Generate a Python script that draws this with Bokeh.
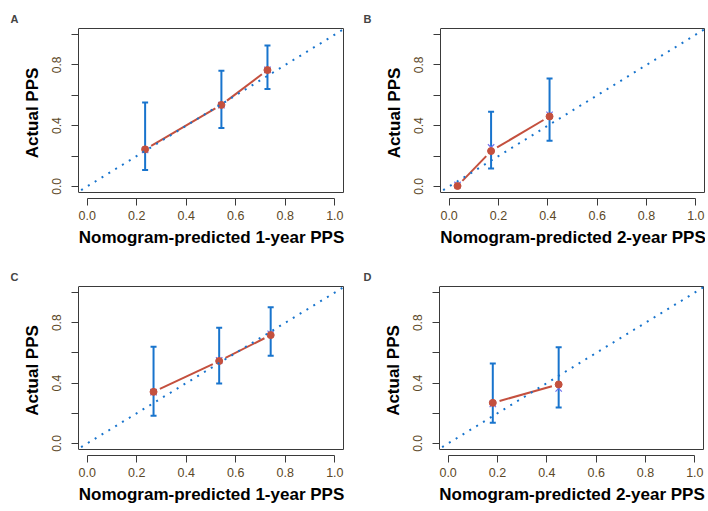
from bokeh.plotting import figure
from bokeh.models import Range1d, FixedTicker, Slope, Whisker, TeeHead, ColumnDataSource
from bokeh.layouts import column, row
from bokeh.embed import file_html
from bokeh.resources import INLINE
import math

# ---------------- data ----------------
letters = ["A", "B", "C", "D"]
x_titles = ["Nomogram-predicted 1-year PPS", "Nomogram-predicted 2-year PPS",
            "Nomogram-predicted 1-year PPS", "Nomogram-predicted 2-year PPS"]
y_title = "Actual PPS"
tick_values = [0.0, 0.2, 0.4, 0.6, 0.8, 1.0]
x_tick_labels = ["0.0", "0.2", "0.4", "0.6", "0.8", "1.0"]
y_tick_labels = ["0.0", "", "0.4", "", "0.8", ""]

a_pred = [0.234, 0.542, 0.728]
a_obs = [0.244, 0.537, 0.766]
a_corr = [0.240, 0.535, 0.768]
a_low = [0.108, 0.384, 0.641]
a_high = [0.553, 0.761, 0.928]

b_pred = [0.034, 0.170, 0.407]
b_obs = [0.003, 0.233, 0.461]
b_corr = [0.010, 0.257, 0.472]
b_low = [float("nan"), 0.118, 0.301]
b_high = [float("nan"), 0.491, 0.711]

c_pred = [0.268, 0.533, 0.741]
c_obs = [0.342, 0.546, 0.718]
c_corr = [0.340, 0.550, 0.727]
c_low = [0.183, 0.398, 0.581]
c_high = [0.641, 0.767, 0.902]

d_pred = [0.181, 0.448]
d_obs = [0.269, 0.391]
d_corr = [0.262, 0.365]
d_low = [0.137, 0.239]
d_high = [0.530, 0.637]

# ---------------- style ----------------
BLUE = "#1874CD"
RED = "#C4503E"
XMARK = "#7070EE"
AXIS = "#3a3a3a"
TICKLAB = "#5C4827"
FONT = "Liberation Sans"
X0, X1 = -0.035, 1.035
Y0, Y1 = -0.04, 1.04


def panel(letter, xtitle, pred, obs, corr, low, high, bw, bh, bl, bt, br, bb,
          title_off):
    # box of bw x bh px; frame extends 1px above/right and 6px below (detached x axis)
    ux = bw / (X1 - X0)
    uy = bh / (Y1 - Y0)
    ext_top, ext_right, ext_bottom = 1, 1, 6
    p = figure(frame_width=bw + ext_right, frame_height=bh + ext_top + ext_bottom,
               x_range=Range1d(X0, X1 + ext_right / ux),
               y_range=Range1d(Y0 - ext_bottom / uy, Y1 + ext_top / uy),
               output_backend="svg", toolbar_location=None,
               min_border_left=bl, min_border_top=bt, min_border_right=br,
               min_border_bottom=bb, background_fill_color="white",
               border_fill_color="white")
    p.grid.visible = False
    p.outline_line_color = None

    # letter
    p.title.text = letter
    p.title.text_font = FONT
    p.title.text_font_size = "11px"
    p.title.text_font_style = "bold"
    p.title.align = "left"
    p.title.vertical_align = "top"
    p.title.offset = title_off
    p.title.standoff = 1

    xa = p.xaxis[0]
    xa.ticker = FixedTicker(ticks=tick_values)
    xa.major_label_overrides = {v: s for v, s in zip(tick_values, x_tick_labels)}
    xa.bounds = (0, 1)
    xa.minor_tick_line_color = None
    xa.major_tick_in = 0
    xa.major_tick_out = 7
    xa.axis_line_color = AXIS
    xa.major_tick_line_color = AXIS
    xa.major_label_text_font = FONT
    xa.major_label_text_font_size = "12.5px"
    xa.major_label_text_color = TICKLAB
    xa.major_label_standoff = 5
    xa.axis_label = xtitle
    xa.axis_label_text_font = FONT
    xa.axis_label_text_font_size = "17px"
    xa.axis_label_text_font_style = "bold"
    xa.axis_label_text_color = "black"
    xa.axis_label_standoff = 5

    ya = p.yaxis[0]
    ya.ticker = FixedTicker(ticks=tick_values)
    ya.major_label_overrides = {v: s for v, s in zip(tick_values, y_tick_labels)}
    ya.bounds = (Y0, Y1)
    ya.minor_tick_line_color = None
    ya.major_tick_in = 0
    ya.major_tick_out = 7
    ya.axis_line_color = AXIS
    ya.major_tick_line_color = AXIS
    ya.major_label_orientation = "vertical"
    ya.major_label_text_font = FONT
    ya.major_label_text_font_size = "12px"
    ya.major_label_text_color = TICKLAB
    ya.major_label_standoff = 10
    ya.axis_label = y_title
    ya.axis_label_text_font = FONT
    ya.axis_label_text_font_size = "17px"
    ya.axis_label_text_font_style = "bold"
    ya.axis_label_text_color = "black"
    ya.axis_label_standoff = 8

    # plot box (top, right, bottom edges; left edge is the y axis line)
    p.line(x=[X0, X1, X1, X0], y=[Y1, Y1, Y0, Y0], line_color=AXIS, line_width=1)

    # ideal diagonal
    p.add_layout(Slope(gradient=1, y_intercept=0, line_color=BLUE, line_width=2,
                       line_dash="2 6"))

    # error bars
    src = ColumnDataSource(dict(x=pred, lo=low, hi=high))
    p.add_layout(Whisker(base="x", lower="lo", upper="hi", source=src,
                         line_color=BLUE, line_width=2,
                         upper_head=TeeHead(size=6, line_color=BLUE, line_width=2),
                         lower_head=TeeHead(size=6, line_color=BLUE, line_width=2)))

    # observed line with gaps around points (type = "b")
    gap = 7.0
    x0s, y0s, x1s, y1s = [], [], [], []
    for i in range(len(pred) - 1):
        dxp = (pred[i + 1] - pred[i]) * ux
        dyp = (obs[i + 1] - obs[i]) * uy
        f = gap / math.hypot(dxp, dyp)
        x0s.append(pred[i] + (pred[i + 1] - pred[i]) * f)
        y0s.append(obs[i] + (obs[i + 1] - obs[i]) * f)
        x1s.append(pred[i + 1] - (pred[i + 1] - pred[i]) * f)
        y1s.append(obs[i + 1] - (obs[i + 1] - obs[i]) * f)
    p.segment(x0=x0s, y0=y0s, x1=x1s, y1=y1s, line_color=RED, line_width=2)

    p.scatter(pred, corr, marker="x", size=9, line_color=XMARK, line_width=1.2)
    p.scatter(pred, obs, marker="circle", size=7, fill_color=RED, line_color=RED)
    return p


pa = panel("A", x_titles[0], a_pred, a_obs, a_corr, a_low, a_high,
           265, 164, 78, 27, 10, 55, -68)
pb = panel("B", x_titles[1], b_pred, b_obs, b_corr, b_low, b_high,
           264, 164, 86, 27, 0, 55, -77)
pc = panel("C", x_titles[2], c_pred, c_obs, c_corr, c_low, c_high,
           265, 163, 78, 32, 10, 50, -68)
pd = panel("D", x_titles[3], d_pred, d_obs, d_corr, d_low, d_high,
           264, 163, 85, 32, 1, 50, -76)

layout = column(row(pa, pb, spacing=0), row(pc, pd, spacing=0), spacing=0)

with open("out.html", "w") as f:
    f.write(file_html(layout, INLINE))
